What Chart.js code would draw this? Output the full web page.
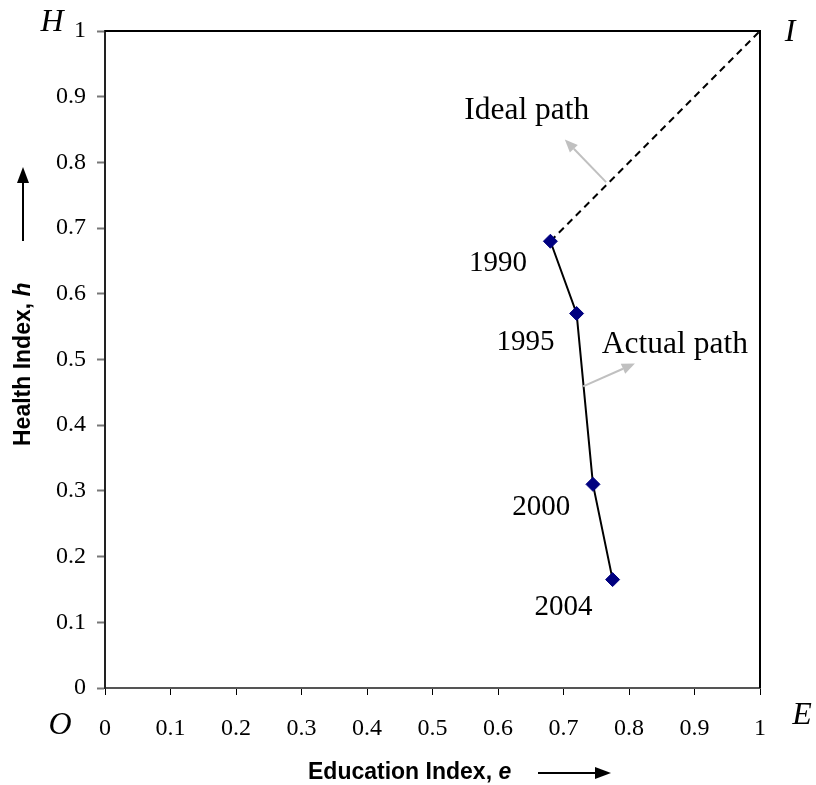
<!DOCTYPE html>
<html>
<head>
<meta charset="utf-8">
<script src="https://cdn.jsdelivr.net/npm/chart.js@4"></script>
<style>
  html,body{margin:0;padding:0;background:#fff;}
  #wrap{width:816px;height:785px;position:relative;}
</style>
</head>
<body>
<div id="wrap"><canvas id="c" width="816" height="785"></canvas></div>
<script>
// ---- data ----
const years = ['1990', '1995', '2000', '2004'];
const educationIndex = [0.68, 0.72, 0.745, 0.775];
const healthIndex = [0.68, 0.57, 0.31, 0.165];
const idealEnd = [1, 1];
const tickValues = [0, 0.1, 0.2, 0.3, 0.4, 0.5, 0.6, 0.7, 0.8, 0.9, 1];
// label anchors (data coordinates)
const yearLabelPos = [[0.600, 0.646], [0.642, 0.526], [0.666, 0.275], [0.700, 0.122]];
const idealLabel = {text: 'Ideal path', x: 0.644, y: 0.879};
const actualLabel = {text: 'Actual path', x: 0.870, y: 0.522};
const idealArrow = {from: [0.765, 0.770], to: [0.702, 0.835]};
const actualArrow = {from: [0.730, 0.459], to: [0.809, 0.494]};

const actualPts = educationIndex.map((e, i) => ({x: e, y: healthIndex[i]}));
const idealPts = [{x: educationIndex[0], y: healthIndex[0]}, {x: idealEnd[0], y: idealEnd[1]}];

function arrow(ctx, x1, y1, x2, y2, color, lw, hl, hw) {
  const a = Math.atan2(y2 - y1, x2 - x1);
  ctx.save();
  ctx.strokeStyle = color; ctx.fillStyle = color; ctx.lineWidth = lw;
  ctx.beginPath();
  ctx.moveTo(x1, y1);
  ctx.lineTo(x2 - hl * Math.cos(a), y2 - hl * Math.sin(a));
  ctx.stroke();
  ctx.beginPath();
  ctx.moveTo(x2, y2);
  ctx.lineTo(x2 - hl * Math.cos(a) + hw / 2 * Math.sin(a), y2 - hl * Math.sin(a) - hw / 2 * Math.cos(a));
  ctx.lineTo(x2 - hl * Math.cos(a) - hw / 2 * Math.sin(a), y2 - hl * Math.sin(a) + hw / 2 * Math.cos(a));
  ctx.closePath();
  ctx.fill();
  ctx.restore();
}

const decor = {
  id: 'decor',
  afterDraw(chart) {
    const ctx = chart.ctx;
    const xs = chart.scales.x, ys = chart.scales.y;
    const ca = chart.chartArea;
    const px = v => xs.getPixelForValue(v), py = v => ys.getPixelForValue(v);
    ctx.save();
    // top & right frame lines
    ctx.strokeStyle = '#000'; ctx.lineWidth = 2;
    ctx.beginPath();
    ctx.moveTo(ca.left, ca.top); ctx.lineTo(ca.right, ca.top); ctx.lineTo(ca.right, ca.bottom);
    ctx.stroke();

    // annotations
    ctx.fillStyle = '#000';
    ctx.textAlign = 'center'; ctx.textBaseline = 'middle';
    ctx.font = '29px "Liberation Serif", "Times New Roman", serif';
    years.forEach((y, i) => ctx.fillText(y, px(yearLabelPos[i][0]), py(yearLabelPos[i][1])));
    ctx.font = '31.5px "Liberation Serif", "Times New Roman", serif';
    ctx.fillText(idealLabel.text, px(idealLabel.x), py(idealLabel.y));
    ctx.fillText(actualLabel.text, px(actualLabel.x), py(actualLabel.y));

    arrow(ctx, px(idealArrow.from[0]), py(idealArrow.from[1]), px(idealArrow.to[0]), py(idealArrow.to[1]), '#c0c0c0', 2, 13, 11);
    arrow(ctx, px(actualArrow.from[0]), py(actualArrow.from[1]), px(actualArrow.to[0]), py(actualArrow.to[1]), '#c0c0c0', 2, 13, 11);

    // corner letters
    ctx.font = 'italic 32px "Liberation Serif", "Times New Roman", serif';
    ctx.fillText('H', ca.left - 53, ca.top - 8);
    ctx.fillText('I', ca.right + 30, ca.top + 2);
    ctx.fillText('O', ca.left - 45, ca.bottom + 38);
    ctx.fillText('E', ca.right + 42, ca.bottom + 28);

    // x axis title
    ctx.textAlign = 'left';
    ctx.font = 'bold 23px "Liberation Sans", Arial, sans-serif';
    const t1 = 'Education Index, ';
    const tx = 308, ty = ca.bottom + 85;
    ctx.fillText(t1, tx, ty);
    const w1 = ctx.measureText(t1).width;
    ctx.font = 'bold italic 23px "Liberation Sans", Arial, sans-serif';
    ctx.fillText('e', tx + w1, ty);
    arrow(ctx, 538, ty, 611, ty, '#000', 2, 16, 12);

    // y axis title
    ctx.save();
    ctx.translate(24, 446);
    ctx.rotate(-Math.PI / 2);
    ctx.textAlign = 'left';
    ctx.font = 'bold 23px "Liberation Sans", Arial, sans-serif';
    const t2 = 'Health Index, ';
    ctx.fillText(t2, 0, 0);
    const w2 = ctx.measureText(t2).width;
    ctx.font = 'bold italic 23px "Liberation Sans", Arial, sans-serif';
    ctx.fillText('h', w2, 0);
    ctx.restore();
    arrow(ctx, 23, 241, 23, 167, '#000', 2, 16, 12);
    ctx.restore();
  }
};

new Chart(document.getElementById('c'), {
  type: 'scatter',
  data: {
    datasets: [
      {
        label: 'Ideal path',
        data: idealPts,
        showLine: true,
        borderColor: '#000',
        borderWidth: 2,
        borderDash: [7, 5],
        pointRadius: 0,
        order: 2
      },
      {
        label: 'Actual path',
        data: actualPts,
        showLine: true,
        borderColor: '#000',
        borderWidth: 2,
        pointStyle: 'rectRot',
        pointRadius: 7,
        pointBackgroundColor: '#000080',
        pointBorderColor: '#000080',
        pointBorderWidth: 1,
        order: 1
      }
    ]
  },
  options: {
    responsive: false,
    animation: false,
    layout: {padding: {left: 0, top: 31, right: 56, bottom: 0}},
    plugins: {legend: {display: false}, tooltip: {enabled: false}},
    scales: {
      x: {
        type: 'linear', min: 0, max: 1,
        afterBuildTicks: s => { s.ticks = tickValues.map(v => ({value: v})); },
        afterFit: s => { s.height = 97; },
        grid: {drawOnChartArea: false, drawTicks: true, tickLength: 7, tickColor: '#000', tickWidth: 1},
        border: {display: true, color: '#555', width: 2},
        ticks: {color: '#000', padding: 19, maxRotation: 0,
          font: {family: '"Liberation Serif", "Times New Roman", serif', size: 24},
          callback: v => String(v)}
      },
      y: {
        type: 'linear', min: 0, max: 1,
        afterBuildTicks: s => { s.ticks = tickValues.map(v => ({value: v})); },
        afterFit: s => { s.width = 105; },
        grid: {drawOnChartArea: false, drawTicks: true, tickLength: 8, tickColor: '#777', tickWidth: 2},
        border: {display: true, color: '#222', width: 2},
        ticks: {color: '#000', padding: 11,
          font: {family: '"Liberation Serif", "Times New Roman", serif', size: 24},
          callback: v => String(v)}
      }
    }
  },
  plugins: [decor]
});
</script>
</body>
</html>
